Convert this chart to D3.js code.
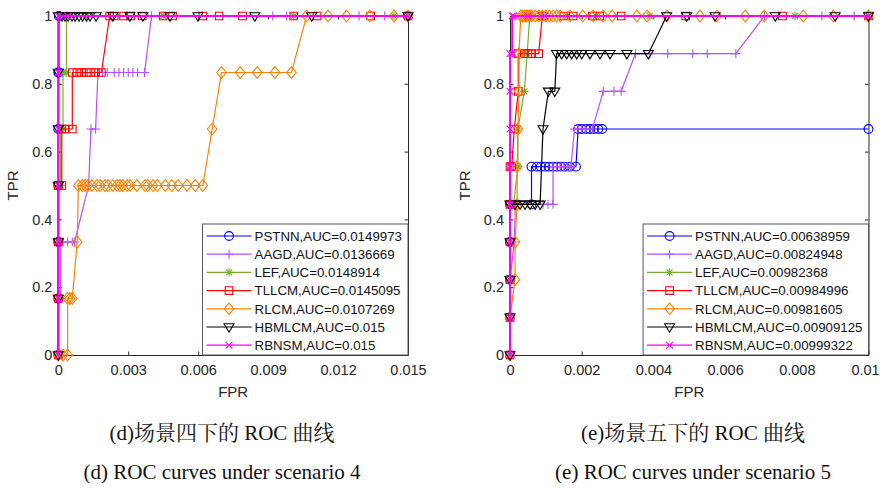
<!DOCTYPE html>
<html>
<head>
<meta charset="utf-8">
<script src="https://cdn.jsdelivr.net/npm/d3@7"></script>
<style>
  html, body { margin: 0; padding: 0; background: #fff; }
  svg { display: block; }
  .tick text { font-family: "Liberation Sans", Arial, sans-serif; font-size: 14.5px; fill: #262626; }
  .caption { font-family: "Liberation Serif", "Noto Serif CJK SC", "Noto Sans CJK SC", serif; font-size: 21px; fill: #111; }
</style>
</head>
<body>
<div class="container"></div>
<script>
// methods, colours and marker types (legend order)
const methods = ['PSTNN', 'AAGD', 'LEF', 'TLLCM', 'RLCM', 'HBMLCM', 'RBNSM'];
const colors = ['#0000ff', '#b450ff', '#77ac30', '#ff0000', '#ff8000', '#000000', '#ff00ff'];
const markers = ['o', '+', '*', 's', 'd', 'v', 'x'];

// AUC values shown in the legends
const auc4 = ['0.0149973', '0.0136669', '0.0148914', '0.0145095', '0.0107269', '0.015', '0.015'];
const auc5 = ['0.00638959', '0.00824948', '0.00982368', '0.00984996', '0.00981605', '0.00909125', '0.00999322'];

// ticks
const yTicks = [0, 0.2, 0.4, 0.6, 0.8, 1];
const yTickLabels = ['0', '0.2', '0.4', '0.6', '0.8', '1'];
const xTicks4 = [0, 0.003, 0.006, 0.009, 0.012, 0.015];
const xTickLabels4 = ['0', '0.003', '0.006', '0.009', '0.012', '0.015'];
const xTicks5 = [0, 0.002, 0.004, 0.006, 0.008, 0.01];
const xTickLabels5 = ['0', '0.002', '0.004', '0.006', '0.008', '0.01'];

// scenario 4 ROC points [FPR, TPR]
const roc4PSTNN = [[0,0],[0,0.1667],[0,0.3333],[0,0.5],[0,0.6667],[0,0.8333],[0.00002,0.8333],[0.00002,1],[0.015,1]];
const roc4AAGD = [[0,0],[0,0.1667],[0.0001,0.1667],[0.0001,0.3333],[0.0002,0.3333],[0.0004,0.3333],[0.0006,0.3333],[0.0007,0.3333],[0.0013,0.5],[0.0014,0.6667],[0.0016,0.6667],[0.0017,0.8333],[0.0019,0.8333],[0.0021,0.8333],[0.0024,0.8333],[0.0026,0.8333],[0.0028,0.8333],[0.003,0.8333],[0.0032,0.8333],[0.0034,0.8333],[0.0037,0.8333],[0.0040,1],[0.0092,1],[0.0098,1],[0.0129,1],[0.014,1],[0.015,1]];
const roc4LEF = [[0,0],[0,0.1667],[0,0.3333],[0,0.5],[0.0001,0.5],[0.0001,0.6667],[0.0002,0.6667],[0.0002,0.8333],[0.00035,0.8333],[0.00035,1],[0.0012,1],[0.0045,1],[0.0101,1],[0.0144,1],[0.015,1]];
const roc4TLLCM = [[0,0],[0,0.1667],[0,0.3333],[0,0.5],[0.00015,0.5],[0.00015,0.6667],[0.0003,0.6667],[0.0006,0.6667],[0.0006,0.8333],[0.0008,0.8333],[0.001,0.8333],[0.0012,0.8333],[0.0014,0.8333],[0.0016,0.8333],[0.00185,0.8333],[0.0022,1],[0.0024,1],[0.0028,1],[0.0031,1],[0.0036,1],[0.0045,1],[0.0049,1],[0.0062,1],[0.0069,1],[0.0079,1],[0.0101,1],[0.0111,1],[0.0134,1],[0.015,1]];
const roc4RLCM = [[0,0],[0.0002,0],[0.0004,0],[0.0004,0.1667],[0.0005,0.1667],[0.0006,0.1667],[0.00081,0.3333],[0.00086,0.5],[0.00102,0.5],[0.00114,0.5],[0.00127,0.5],[0.00144,0.5],[0.00166,0.5],[0.00179,0.5],[0.002,0.5],[0.00213,0.5],[0.00234,0.5],[0.00252,0.5],[0.00264,0.5],[0.00277,0.5],[0.00295,0.5],[0.00308,0.5],[0.00337,0.5],[0.00372,0.5],[0.00384,0.5],[0.00406,0.5],[0.00424,0.5],[0.00459,0.5],[0.00487,0.5],[0.00514,0.5],[0.00552,0.5],[0.00587,0.5],[0.0062,0.5],[0.0066,0.6667],[0.007,0.8333],[0.0078,0.8333],[0.00853,0.8333],[0.00929,0.8333],[0.01,0.8333],[0.01065,1],[0.01157,1],[0.01236,1],[0.01336,1],[0.0144,1],[0.015,1]];
const roc4HBMLCM = [[0,0],[0,0.1667],[0,0.3333],[0,0.5],[0,0.6667],[0,0.8333],[0,1],[0.00016,1],[0.00029,1],[0.00042,1],[0.00059,1],[0.00072,1],[0.00089,1],[0.00104,1],[0.00121,1],[0.00136,1],[0.00162,1],[0.00234,1],[0.00307,1],[0.00363,1],[0.00479,1],[0.00599,1],[0.00843,1],[0.01087,1],[0.015,1]];
const roc4RBNSM = [[0,0],[0,0.1667],[0,0.3333],[0,0.5],[0,0.6667],[0,0.8333],[0,1],[0.0004,1],[0.015,1]];

// scenario 5 ROC points [FPR, TPR]
const roc5PSTNN = [[0,0],[0,0.1111],[0,0.2222],[0,0.3333],[0,0.4444],[0.0006,0.4444],[0.0006,0.5556],[0.00075,0.5556],[0.00086,0.5556],[0.00098,0.5556],[0.00109,0.5556],[0.0012,0.5556],[0.00131,0.5556],[0.00142,0.5556],[0.00153,0.5556],[0.00167,0.5556],[0.00184,0.5556],[0.0019,0.6667],[0.002,0.6667],[0.00212,0.6667],[0.00223,0.6667],[0.00234,0.6667],[0.00246,0.6667],[0.00257,0.6667],[0.01,0.6667]];
const roc5AAGD = [[0,0],[0,0.1111],[0,0.2222],[0.00012,0.3333],[0.00015,0.4444],[0.00092,0.4444],[0.00106,0.4444],[0.0012,0.4444],[0.0012,0.5556],[0.0013,0.5556],[0.0014,0.5556],[0.0015,0.5556],[0.0016,0.5556],[0.0017,0.5556],[0.0018,0.6667],[0.0019,0.6667],[0.002,0.6667],[0.0021,0.6667],[0.0023,0.6667],[0.0026,0.7778],[0.0029,0.7778],[0.0031,0.7778],[0.0035,0.8889],[0.0039,0.8889],[0.0044,0.8889],[0.0051,0.8889],[0.0055,0.8889],[0.0063,0.8889],[0.0071,1],[0.0087,1],[0.0096,1],[0.01,1]];
const roc5LEF = [[0,0],[0,0.1111],[0,0.2222],[0,0.3333],[0,0.4444],[0.0001,0.4444],[0.00022,0.5556],[0.00022,0.6667],[0.0004,0.7778],[0.00048,0.8889],[0.00055,1],[0.00084,1],[0.0016,1],[0.0024,1],[0.0039,1],[0.00795,1],[0.01,1]];
const roc5TLLCM = [[0,0],[0,0.1111],[0,0.2222],[0,0.3333],[0,0.4444],[0,0.5556],[0.00005,0.5556],[0.00012,0.6667],[0.00023,0.7778],[0.00023,0.8889],[0.0004,0.8889],[0.0005,0.8889],[0.0006,0.8889],[0.0008,0.8889],[0.0009,1],[0.0015,1],[0.00176,1],[0.0023,1],[0.0025,1],[0.0031,1],[0.0049,1],[0.0076,1],[0.01,1]];
const roc5RLCM = [[0,0],[0,0.1111],[0.00014,0.2222],[0.00014,0.3333],[0.0002,0.4444],[0.0002,0.5556],[0.00022,0.6667],[0.00025,0.7778],[0.00025,0.8889],[0.0003,1],[0.00035,1],[0.0004,1],[0.00045,1],[0.0005,1],[0.00055,1],[0.0006,1],[0.0007,1],[0.0008,1],[0.0009,1],[0.001,1],[0.0011,1],[0.0012,1],[0.0013,1],[0.0014,1],[0.00167,1],[0.00203,1],[0.00232,1],[0.0026,1],[0.00285,1],[0.00354,1],[0.00382,1],[0.00438,1],[0.0053,1],[0.00577,1],[0.00656,1],[0.00709,1],[0.00818,1],[0.00902,1],[0.01,1]];
const roc5HBMLCM = [[0,0],[0,0.1111],[0,0.2222],[0,0.3333],[0,0.4444],[0.00014,0.4444],[0.00028,0.4444],[0.00042,0.4444],[0.00056,0.4444],[0.0007,0.4444],[0.00084,0.4444],[0.00092,0.6667],[0.00107,0.7778],[0.00125,0.7778],[0.0013,0.8889],[0.00144,0.8889],[0.00158,0.8889],[0.00172,0.8889],[0.00186,0.8889],[0.002,0.8889],[0.00223,0.8889],[0.00251,0.8889],[0.00279,0.8889],[0.00326,0.8889],[0.00386,0.8889],[0.00437,1],[0.00493,1],[0.00572,1],[0.0074,1],[0.00907,1],[0.01,1]];
const roc5RBNSM = [[0,0],[0,0.1111],[0,0.2222],[0,0.3333],[0,0.4444],[0,0.5556],[0,0.6667],[0,0.7778],[0,0.8889],[0.00006,0.8889],[0.00006,1],[0.0001,1],[0.0005,1],[0.00097,1],[0.01,1]];

const width = 880;
const height = 488;

const svg = d3
  .select('.container')
  .append('svg')
  .attr('width', width)
  .attr('height', height);

const markerPath = (type) => {
  switch (type) {
    case 'o': {
      const p = d3.path();
      p.arc(0, 0, 4.4, 0, 2 * Math.PI);
      return p.toString();
    }
    case '+': return 'M-4.5,0H4.5M0,-4.5V4.5';
    case '*': return 'M-4.2,0H4.2M0,-4.2V4.2M-3,-3L3,3M-3,3L3,-3';
    case 's': return 'M-3.8,-3.8H3.8V3.8H-3.8Z';
    case 'd': return 'M0,-5.8L4.8,0L0,5.8L-4.8,0Z';
    case 'v': return 'M-5,-3.2H5L0,5.2Z';
    case 'x': return 'M-3.4,-3.4L3.4,3.4M-3.4,3.4L3.4,-3.4';
  }
};

const drawPanel = (cfg) => {
  const xScale = d3.scaleLinear().domain(cfg.xDomain).range([cfg.left, cfg.right]);
  const yScale = d3.scaleLinear().domain([0, 1]).range([cfg.bottom, cfg.top]);
  const g = svg.append('g');

  // axes (ticks point inward, box on)
  const bottomAxis = d3.axisBottom(xScale).tickValues(cfg.xTicks)
    .tickFormat((d, i) => cfg.xTickLabels[i]).tickSizeInner(-3.5).tickSizeOuter(0).tickPadding(10);
  const topAxis = d3.axisTop(xScale).tickValues(cfg.xTicks).tickFormat('')
    .tickSizeInner(-3.5).tickSizeOuter(0);
  const leftAxis = d3.axisLeft(yScale).tickValues(yTicks)
    .tickFormat((d, i) => yTickLabels[i]).tickSizeInner(-3.5).tickSizeOuter(0).tickPadding(6);
  const rightAxis = d3.axisRight(yScale).tickValues(yTicks).tickFormat('')
    .tickSizeInner(-3.5).tickSizeOuter(0);

  const xg = g.append('g').attr('transform', `translate(0,${cfg.bottom})`).call(bottomAxis);
  g.append('g').attr('transform', `translate(0,${cfg.top})`).call(topAxis);
  g.append('g').attr('transform', `translate(${cfg.left},0)`).call(leftAxis);
  g.append('g').attr('transform', `translate(${cfg.right},0)`).call(rightAxis);
  g.selectAll('.domain, .tick line').attr('stroke', '#262626').attr('stroke-width', 1);
  // keep the last label inside the page edge
  if (cfg.right + 14 > width) {
    xg.selectAll('.tick text').filter((d, i) => i === cfg.xTicks.length - 1).attr('dx', -3.5);
  }

  // axis titles
  g.append('text')
    .attr('x', (cfg.left + cfg.right) / 2)
    .attr('y', cfg.bottom + 42)
    .attr('text-anchor', 'middle')
    .style('font-family', '"Liberation Sans", Arial, sans-serif')
    .style('font-size', '15px')
    .attr('fill', '#262626')
    .text('FPR');
  g.append('text')
    .attr('transform', `translate(${cfg.left - 40},${(cfg.top + cfg.bottom) / 2}) rotate(-90)`)
    .attr('text-anchor', 'middle')
    .style('font-family', '"Liberation Sans", Arial, sans-serif')
    .style('font-size', '15px')
    .attr('fill', '#262626')
    .text('TPR');

  // curves
  const line = d3.line().x((d) => xScale(d[0])).y((d) => yScale(d[1]));
  cfg.series.forEach((pts, i) => {
    const s = g.append('g');
    s.append('path')
      .attr('d', line(pts))
      .attr('fill', 'none')
      .attr('stroke', colors[i])
      .attr('stroke-width', i === 6 ? 1.9 : 1.2);
    s.selectAll('path.mk')
      .data(pts)
      .enter()
      .append('path')
      .attr('class', 'mk')
      .attr('d', markerPath(markers[i]))
      .attr('transform', (d) => `translate(${xScale(d[0])},${yScale(d[1])})`)
      .attr('fill', 'none')
      .attr('stroke', colors[i])
      .attr('stroke-width', 1.1);
  });

  // legend, south-east corner
  const lg = g.append('g');
  const box = lg.append('rect').attr('fill', '#fff').attr('stroke', '#555').attr('stroke-width', 1);
  const rowGap = 18.2;
  const texts = methods.map((m, i) =>
    lg.append('text')
      .attr('y', 0)
      .style('font-family', '"Liberation Sans", Arial, sans-serif')
      .style('font-size', '13.3px')
      .attr('fill', '#111')
      .text(`${m},AUC=${cfg.auc[i]}`)
  );
  const textW = d3.max(texts, (t) => t.node().getComputedTextLength());
  const boxW = textW + 58;
  const boxH = 131;
  const bx = cfg.right - boxW;
  const by = cfg.bottom - boxH;
  box.attr('x', bx).attr('y', by).attr('width', boxW).attr('height', boxH);
  methods.forEach((m, i) => {
    const ry = by + 12 + i * rowGap;
    lg.append('line')
      .attr('x1', bx + 4).attr('x2', bx + 49)
      .attr('y1', ry).attr('y2', ry)
      .attr('stroke', colors[i]).attr('stroke-width', 1.2);
    lg.append('path')
      .attr('d', markerPath(markers[i]))
      .attr('transform', `translate(${bx + 26.5},${ry})`)
      .attr('fill', 'none').attr('stroke', colors[i]).attr('stroke-width', 1.1);
    texts[i].attr('x', bx + 52).attr('y', ry + 4.8);
  });

  // captions
  svg.append('text').attr('class', 'caption')
    .attr('x', cfg.capX).attr('y', 440).attr('text-anchor', 'middle').text(cfg.cap1);
  svg.append('text').attr('class', 'caption')
    .attr('x', cfg.capX).attr('y', 479).attr('text-anchor', 'middle').text(cfg.cap2);
};

drawPanel({
  left: 58.3, right: 408, top: 16, bottom: 355,
  xDomain: [0, 0.015], xTicks: xTicks4, xTickLabels: xTickLabels4,
  series: [roc4PSTNN, roc4AAGD, roc4LEF, roc4TLLCM, roc4RLCM, roc4HBMLCM, roc4RBNSM],
  auc: auc4,
  capX: 222, cap1: '(d)场景四下的 ROC 曲线', cap2: '(d) ROC curves under scenario 4'
});

drawPanel({
  left: 510, right: 868.5, top: 16, bottom: 355,
  xDomain: [0, 0.01], xTicks: xTicks5, xTickLabels: xTickLabels5,
  series: [roc5PSTNN, roc5AAGD, roc5LEF, roc5TLLCM, roc5RLCM, roc5HBMLCM, roc5RBNSM],
  auc: auc5,
  capX: 693, cap1: '(e)场景五下的 ROC 曲线', cap2: '(e) ROC curves under scenario 5'
});
</script>
</body>
</html>
